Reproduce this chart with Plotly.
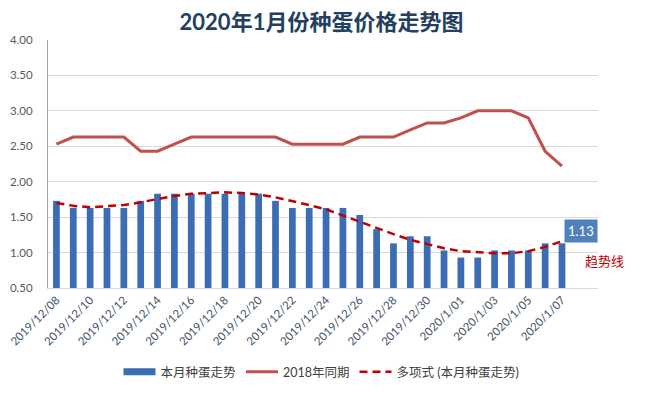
import plotly.graph_objects as go

dates = ["2019/12/%02d" % d for d in range(8, 32)] + ["2020/1/%02d" % d for d in range(1, 8)]
this_month = [1.73, 1.63, 1.63, 1.63, 1.63, 1.73, 1.83, 1.83, 1.83, 1.83, 1.83, 1.83, 1.83, 1.73,
              1.63, 1.63, 1.63, 1.63, 1.53, 1.33, 1.13, 1.23, 1.23, 1.03, 0.93, 0.93, 1.03, 1.03,
              1.03, 1.13, 1.13]
same_2018 = [2.53, 2.63, 2.63, 2.63, 2.63, 2.43, 2.43, 2.53, 2.63, 2.63, 2.63, 2.63, 2.63, 2.63,
             2.53, 2.53, 2.53, 2.53, 2.63, 2.63, 2.63, 2.73, 2.83, 2.83, 2.90, 3.00, 3.00, 3.00,
             2.90, 2.43, 2.22]
trend = [1.70, 1.66, 1.64, 1.65, 1.67, 1.71, 1.76, 1.80, 1.83, 1.84, 1.85, 1.84, 1.82, 1.78,
         1.73, 1.67, 1.61, 1.52, 1.43, 1.35, 1.26, 1.18, 1.12, 1.06, 1.02, 1.00, 0.99, 0.99,
         1.02, 1.08, 1.16]
tick_labels = dates[::2]
names = ["本月种蛋走势", "2018年同期", "多项式 (本月种蛋走势)"]
last_label = "1.13"
trend_note = "趋势线"

FONT = "Lato, 'Noto Sans CJK SC', sans-serif"
BLUE = "#3a6db3"

# the page body adds an 8px offset; compensate so the plot lands where the reference has it
OFF = 8
W, H = 651, 393
L, T = 48 - OFF, 40 - OFF
PW, PH = 550, 248
R, B = W - L - PW, H - T - PH

fig = go.Figure()
fig.add_trace(go.Bar(x=dates, y=this_month, name=names[0], showlegend=False,
                     marker=dict(color=BLUE, line=dict(width=0))))
# legend swatch for the bars (wide rectangle like the reference)
fig.add_trace(go.Scatter(x=[None], y=[None], name=names[0], mode="lines",
                         line=dict(color=BLUE, width=7)))
fig.add_trace(go.Scatter(x=dates, y=same_2018, name=names[1], mode="lines",
                         line=dict(color="#c0504d", width=3)))
fig.add_trace(go.Scatter(x=dates, y=trend, name=names[2], mode="lines",
                         line=dict(color="#c00000", width=2.5, dash="8px,5px")))

fig.add_annotation(x=dates[-1], y=1.30, text=last_label, showarrow=False, xshift=19,
                   bgcolor="#4f81bd", font=dict(color="white", size=13, family=FONT),
                   borderpad=3)
fig.add_annotation(x=(626 - 48) / PW, xref="paper", y=(288 - 271) / PH, yref="paper",
                   text=trend_note, showarrow=False,
                   font=dict(color="#c00000", size=13, family=FONT))

fig.update_layout(
    width=W, height=H,
    margin=dict(l=L, r=R, t=T, b=B, autoexpand=False),
    paper_bgcolor="white", plot_bgcolor="white",
    font=dict(family=FONT, color="#595959", size=11),
    title=dict(text="<b>2020年1月份种蛋价格走势图</b>", x=(321.5 - OFF) / W, xanchor="center",
               y=1 - (22 - OFF) / H, yanchor="middle",
               font=dict(size=22, color="#243f60", family=FONT)),
    bargap=0.6,
    showlegend=True,
    legend=dict(orientation="h", x=(321.5 - 48) / PW, xanchor="center",
                y=(288 - 372) / PH, yanchor="middle",
                font=dict(size=12.5, color="#404040", family=FONT), traceorder="normal",
                itemwidth=32),
)

fig.update_xaxes(type="category", categoryorder="array", categoryarray=dates,
                 tickmode="array", tickvals=tick_labels, ticktext=tick_labels,
                 tickangle=-45, tickfont=dict(size=11.5, color="#44546a"),
                 showline=True, linecolor="#d9d9d9", linewidth=1, showgrid=False,
                 ticks="", automargin=False)
fig.update_yaxes(range=[0.5, 4.0], dtick=0.5, tickformat=".2f",
                 showgrid=True, gridcolor="#d9d9d9", gridwidth=1,
                 showline=True, linecolor="#a6a6a6", linewidth=1,
                 ticklabelstandoff=12, tickfont=dict(size=11.5, color="#595959"),
                 zeroline=False, automargin=False)

fig.write_html("out.html")
